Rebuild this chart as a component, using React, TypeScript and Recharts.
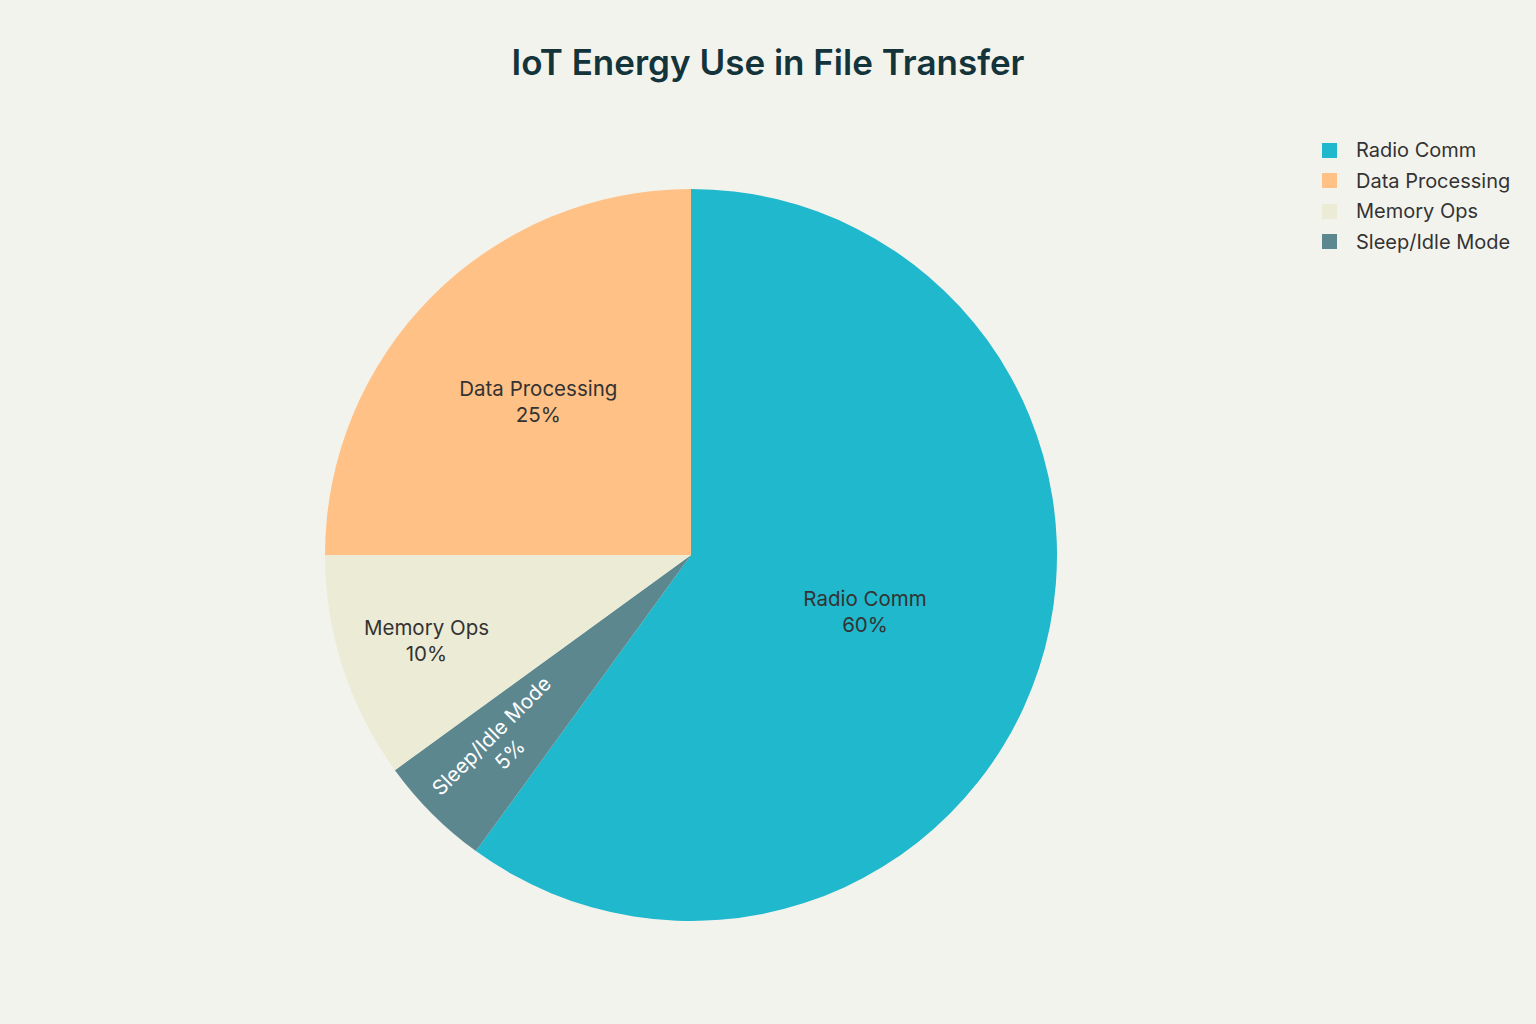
import { Legend, Pie, PieChart, Cell } from 'recharts'

const CATEGORIES = ['Radio Comm', 'Data Processing', 'Memory Ops', 'Sleep/Idle Mode']
const VALUES = [60, 25, 10, 5]
const COLORS = ['#1FB8CD', '#FFC185', '#ECEBD5', '#5D878F']
const LABEL_COLORS = ['#333333', '#333333', '#333333', '#FFFFFF']
// clockwise drawing order starting at 12 o'clock
const PIE_ORDER = [0, 3, 2, 1]
// where each inside label sits, as a share of the radius
const LABEL_RADIUS = [0.5, 0.59, 0.76, 0.735]

const TITLE = 'IoT Energy Use in File Transfer'
const FONT = 'Inter, "Liberation Sans", sans-serif'
const RADIAN = Math.PI / 180

const pieData = PIE_ORDER.map((i) => ({ name: CATEGORIES[i], value: VALUES[i], idx: i }))
const total = VALUES.reduce((a, b) => a + b, 0)

function SliceLabel(props: any) {
  const { cx, cy, midAngle, outerRadius, payload } = props
  const i = payload.idx
  const r = outerRadius * LABEL_RADIUS[i]
  const x = cx + r * Math.cos(-midAngle * RADIAN)
  const y = cy + r * Math.sin(-midAngle * RADIAN)
  const pct = `${Math.round((VALUES[i] / total) * 100)}%`
  // only the thin slice gets its text turned along the radius
  const rotate = VALUES[i] / total < 0.08 ? -(midAngle + 180) : 0
  return (
    <text
      x={x}
      y={y}
      transform={rotate ? `rotate(${rotate} ${x} ${y})` : undefined}
      textAnchor="middle"
      fill={LABEL_COLORS[i]}
      fontSize={20.5}
      fontFamily={FONT}
    >
      <tspan x={x} dy={-6}>{CATEGORIES[i]}</tspan>
      <tspan x={x} dy={26}>{pct}</tspan>
    </text>
  )
}

function LegendBox() {
  return (
    <div style={{ fontFamily: FONT }}>
      {CATEGORIES.map((c, i) => (
        <div key={c} style={{ display: 'flex', alignItems: 'center', height: 30.5 }}>
          <span style={{ width: 15, height: 15, background: COLORS[i], marginRight: 19 }} />
          <span style={{ fontSize: 20, color: '#333333' }}>{c}</span>
        </div>
      ))}
    </div>
  )
}

export default function App() {
  return (
    <div
      style={{
        position: 'absolute',
        left: 0,
        top: 0,
        width: 1536,
        height: 1024,
        background: '#F3F3EE',
      }}
    >
      <div
        style={{
          position: 'absolute',
          top: 41,
          width: 1536,
          textAlign: 'center',
          fontFamily: FONT,
          fontSize: 35,
          fontWeight: 600,
          color: '#13343B',
        }}
      >
        {TITLE}
      </div>
      <PieChart width={1536} height={1024} margin={{ top: 0, right: 0, bottom: 0, left: 0 }}>
        <Pie
          data={pieData}
          dataKey="value"
          nameKey="name"
          cx={691}
          cy={555}
          outerRadius={366}
          startAngle={90}
          endAngle={-270}
          stroke="none"
          label={SliceLabel}
          labelLine={false}
          isAnimationActive={false}
        >
          {pieData.map((d) => (
            <Cell key={d.name} fill={COLORS[d.idx]} />
          ))}
        </Pie>
        <Legend
          content={() => <LegendBox />}
          layout="vertical"
          verticalAlign="top"
          align="right"
          wrapperStyle={{ position: 'absolute', left: 1322, top: 135, width: 214 }}
        />
      </PieChart>
    </div>
  )
}
